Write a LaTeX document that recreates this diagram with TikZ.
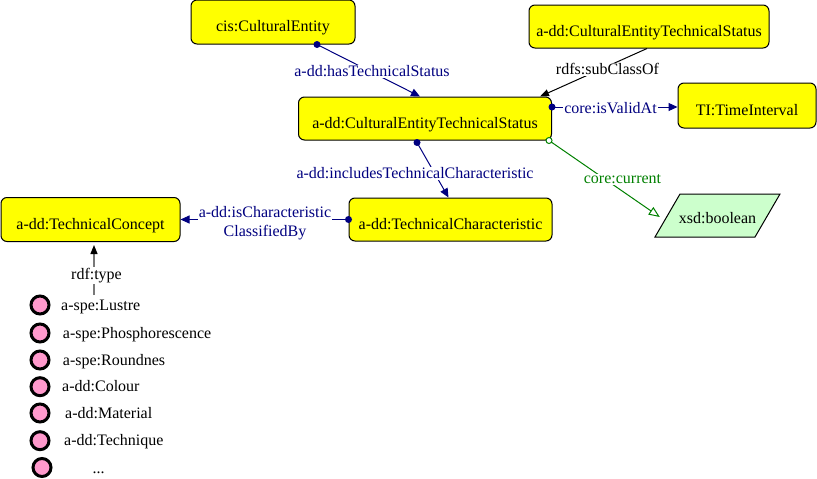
\documentclass[tikz,border=0pt]{standalone}
\usepackage{fontspec}
\setmainfont{Liberation Serif}
\usetikzlibrary{arrows.meta,calc}
\definecolor{navyc}{RGB}{0,0,128}
\definecolor{greenc}{RGB}{0,128,0}
\definecolor{boxyellow}{RGB}{255,255,0}
\definecolor{boolgreen}{RGB}{204,255,204}
\definecolor{pinkc}{RGB}{255,153,204}
\definecolor{grayc}{RGB}{120,120,120}
\begin{document}
\begin{tikzpicture}[x=1pt,y=-1pt,
  every node/.style={font=\fontsize{16}{19}\selectfont},
  cls/.style={draw=black, line width=1pt, fill=boxyellow, rounded corners=6pt, inner sep=0pt, text height=19pt, text depth=0pt},
  navyline/.style={draw=navyc, line width=1pt, -{Triangle[length=9pt,width=8pt]}},
  blackline/.style={draw=black, line width=1pt, -{Triangle[length=9pt,width=7pt]}},
  greenline/.style={draw=greenc, line width=1pt, -{Triangle[open,length=11pt,width=9pt]}},
  grayline/.style={draw=grayc, line width=1.2pt, -{Triangle[length=9pt,width=7pt,color=black]}},
  navylbl/.style={fill=white, inner sep=1pt, text=navyc},
  blacklbl/.style={fill=white, inner sep=1pt, text=black},
  greenlbl/.style={fill=white, inner sep=1pt, text=greenc},
  inst/.style={draw=black, line width=3pt, fill=pinkc, circle, minimum size=18pt, inner sep=0pt},
  instlbl/.style={anchor=base west, inner sep=0pt}
]
\useasboundingbox (0,0) rectangle (817,479);

% class boxes
\node[cls, minimum width=164pt, minimum height=44pt] (ce) at (273,22) {cis:CulturalEntity};
\node[cls, minimum width=240pt, minimum height=43pt] (st2) at (649,26.5) {a-dd:CulturalEntityTechnicalStatus};
\node[cls, minimum width=253pt, minimum height=43pt] (main) at (425,118.5) {a-dd:CulturalEntityTechnicalStatus};
\node[cls, minimum width=138pt, minimum height=45pt] (ti) at (747,105.5) {TI:TimeInterval};
\node[cls, minimum width=203pt, minimum height=43pt] (tc) at (450.5,219.5) {a-dd:TechnicalCharacteristic};
\node[cls, minimum width=179pt, minimum height=44pt] (tcon) at (90.5,219.5) {a-dd:TechnicalConcept};

% datatype parallelogram
\coordinate (xbc) at (717.5,215.5);
\draw[line width=1pt, fill=boolgreen] ($(xbc)+(-62.5,21.5)$) -- ($(xbc)+(-37.5,-21.5)$) -- ($(xbc)+(62.5,-21.5)$) -- ($(xbc)+(37.5,21.5)$) -- cycle;
\node[inner sep=0pt, minimum width=100pt, minimum height=43pt, text height=16pt, text depth=0pt] (xb) at (xbc) {xsd:boolean};

% hasTechnicalStatus
\coordinate (a1) at ([xshift=44pt]ce.south);
\draw[navyline] (a1) -- ([xshift=-5pt]main.north);
\fill[navyc] (a1) circle (3.5pt);
\node[navylbl] (l1) at (372,71.3) {a-dd:hasTechnicalStatus};

% subClassOf
\draw[blackline] ([xshift=-2pt]st2.south) -- ([xshift=115pt]main.north);
\node[blacklbl] (l2) at (607.5,69.3) {rdfs:subClassOf};

% isValidAt
\coordinate (a3) at ([yshift=11.5pt]main.east);
\draw[navyline] (a3) -- (a3 -| ti.west);
\fill[navyc] (a3) circle (3.5pt);
\node[navylbl] (l3) at (610.5,108.5) {core:isValidAt};

% includesTechnicalCharacteristic
\coordinate (a4) at ([xshift=-8pt,yshift=-2pt]main.south);
\draw[navyline] (a4) -- ([xshift=-2pt]tc.north);
\fill[navyc] (a4) circle (3.5pt);
\node[navylbl] (l4) at (415,173.3) {a-dd:includesTechnicalCharacteristic};

% core:current
\coordinate (a5) at ([xshift=-3pt]main.south east);
\draw[greenline] (a5) -- ([xshift=-7.5pt,yshift=-1.5pt]xb.west);
\filldraw[draw=greenc, fill=white, line width=1pt] (a5) circle (3pt);
\node[greenlbl] (l5) at (622.5,179.3) {core:current};

% isCharacteristicClassifiedBy
\draw[navyline] (tc.west) -- (tcon.east);
\fill[navyc] (tc.west) circle (3.5pt);
\node[navylbl, align=center, inner sep=0.5pt] (l6) at (265,223.5) {a-dd:isCharacteristic\\ClassifiedBy};

% rdf:type
\coordinate (rt) at (94,295);
\draw[grayline] (rt) -- ([xshift=3.5pt,yshift=-3pt]tcon.south);
\node[blacklbl] (l7) at (96.5,275.3) {rdf:type};

% instances
\node[inst] (i1) at (40,305) {};
\node[inst] (i2) at (40,333) {};
\node[inst] (i3) at (40,360) {};
\node[inst] (i4) at (40,386.7) {};
\node[inst] (i5) at (40,413) {};
\node[inst] (i6) at (40,440.7) {};
\node[inst] (i7) at (42,467.5) {};
\node[instlbl] (t1) at (61,310.5) {a-spe:Lustre};
\node[instlbl] (t2) at (62.7,338) {a-spe:Phosphorescence};
\node[instlbl] (t3) at (62.7,365) {a-spe:Roundnes};
\node[instlbl] (t4) at (62,391.7) {a-dd:Colour};
\node[instlbl] (t5) at (65,418) {a-dd:Material};
\node[instlbl] (t6) at (64,445.7) {a-dd:Technique};
\node[instlbl] (t7) at (92.3,473) {...};
\end{tikzpicture}
\end{document}
